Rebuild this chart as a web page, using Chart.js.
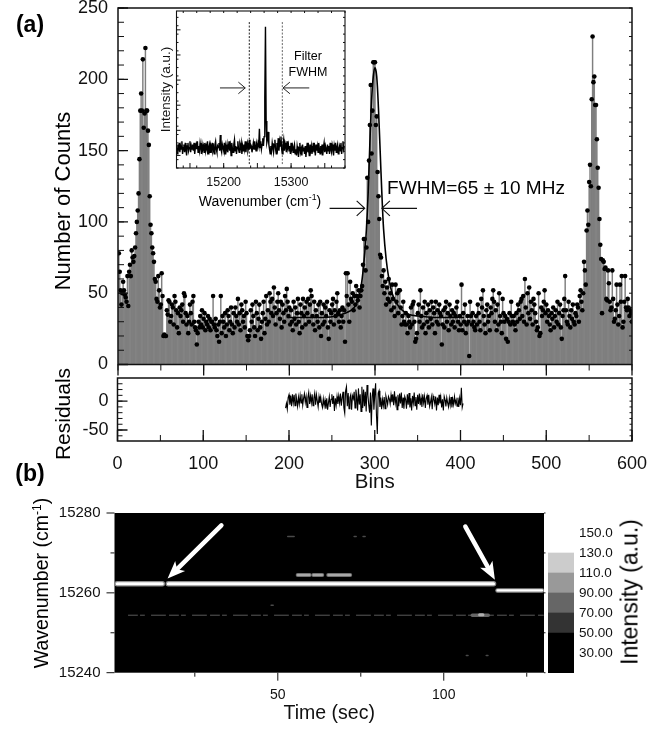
<!DOCTYPE html>
<html>
<head>
<meta charset="utf-8">
<title>Number of counts and wavenumber trace</title>
<script src="https://cdn.jsdelivr.net/npm/chart.js@4"></script>
<style>
body { margin: 0; background: #fff; }
#page { position: relative; width: 648px; height: 734px; overflow: hidden; }
canvas { position: absolute; left: 0; top: 0; }
.t { position: absolute; white-space: nowrap; color: #000; font-family: "Liberation Sans", Arial, sans-serif; transform: translate(-50%, -50%); line-height: 1; }
.r { transform: translate(-50%, -50%) rotate(-90deg); }
sup { font-size: 62%; line-height: 0; }
</style>
</head>
<body>
<div id="page">
<canvas id="main" width="648" height="734"></canvas>
<canvas id="inset" width="648" height="734"></canvas>
<canvas id="resid" width="648" height="734"></canvas>
<canvas id="heat" width="648" height="734"></canvas>
<canvas id="bar" width="648" height="734"></canvas>
<div class="t" style="left:30px;top:24px;font-size:23px;font-weight:bold">(a)</div>
<div class="t" style="left:30px;top:473px;font-size:23px;font-weight:bold">(b)</div>
<div class="t r" style="left:63px;top:201px;font-size:22px">Number of Counts</div>
<div class="t r" style="left:62px;top:414px;font-size:21px">Residuals</div>
<div class="t" style="left:476px;top:187px;font-size:19px">FWHM=65 ± 10 MHz</div>
<div class="t" style="left:308px;top:56px;font-size:12.5px">Filter</div>
<div class="t" style="left:308px;top:72px;font-size:12.5px">FWHM</div>
<div class="t" style="left:260px;top:201px;font-size:14px">Wavenumber (cm<sup>-1</sup>)</div>
<div class="t r" style="left:42px;top:583px;font-size:19.5px">Wavenumber (cm<sup>-1</sup>)</div>
<div class="t r" style="left:630px;top:592px;font-size:23px">Intensity (a.u.)</div>
</div>
<script>
// counts per bin, bins 1..600, 20 bins a row
var binCounts = [
78,65,52,42,50,58,52,49,47,44,62,41,65,70,62,80,75,72,76,82,
92,100,108,120,144,178,190,178,214,166,176,222,178,178,164,154,118,98,92,82,
78,72,60,58,46,44,62,52,40,42,64,48,20,21,20,20,38,35,45,44,
30,34,42,40,28,48,44,38,26,36,22,40,34,38,42,30,50,48,36,28,
34,22,30,42,36,28,44,48,30,26,24,14,22,30,26,34,28,38,26,32,
36,24,30,28,34,26,32,24,30,30,48,28,26,32,24,20,28,16,30,48,
22,34,30,26,36,20,28,38,34,24,30,40,28,22,36,26,40,34,30,46,
28,36,24,42,38,30,34,26,44,36,20,17,20,24,38,30,42,34,26,20,
44,36,24,32,42,26,18,30,36,44,22,32,48,28,38,30,50,44,36,46,
34,54,40,28,36,44,50,38,32,44,26,42,36,30,48,38,53,44,34,40,
28,38,30,24,44,32,40,28,36,46,30,22,42,36,26,46,34,40,28,44,
36,46,30,42,52,48,34,28,44,24,38,34,30,42,26,44,20,36,28,42,
30,40,34,44,26,18,38,30,36,42,46,28,38,34,44,50,36,30,38,26,
34,40,30,38,16,64,48,64,42,30,58,46,44,50,38,48,42,55,48,45,
52,40,48,52,55,70,88,88,66,82,131,100,143,168,196,148,178,212,212,212,
168,174,135,118,102,77,75,62,55,66,50,58,42,54,46,60,44,50,38,56,
46,40,34,56,44,50,36,52,52,40,28,34,44,30,28,36,28,22,34,30,
26,40,28,42,44,30,16,18,22,36,42,30,52,34,26,40,28,44,22,36,
30,42,26,38,32,44,28,40,36,22,44,30,38,28,42,36,34,14,28,38,
26,40,44,30,36,24,42,34,28,38,30,36,26,34,40,44,30,24,34,28,
56,24,36,30,42,22,28,34,30,6,44,34,28,36,30,26,24,34,28,42,
36,30,24,46,40,52,34,28,22,38,42,30,34,24,40,36,46,52,44,30,
38,24,42,28,50,34,30,22,46,36,30,34,18,32,16,30,36,28,44,34,
30,34,28,24,36,30,42,38,32,44,46,34,48,30,60,40,28,50,36,54,
32,44,38,28,46,42,36,30,24,26,50,20,22,40,34,38,44,52,36,42,
30,38,34,28,24,36,32,40,26,34,38,30,44,28,36,42,26,18,34,38,
46,62,38,30,28,44,34,26,38,32,42,30,28,36,34,42,40,30,48,52,
44,38,50,72,66,56,94,108,98,128,140,125,186,230,198,202,182,182,158,138,
124,102,84,74,36,73,72,67,68,46,45,66,57,44,38,40,66,46,30,32,
38,56,42,28,34,56,44,62,26,30,44,62,40,38,46,40,34,38,36,30
];
// fitted curve
var fitBins = [197,220,240,255,265,272,278,282,285,288,290,292,294,296,298,300,302,304,306,308,310,313,316,320,325,332,340,350,370,404];
var fitCounts = [33,33,33,34,36,38,42,49,60,78,95,120,155,185,202,208,202,180,150,120,95,74,61,50,43,38,35,34,33,33];

// residuals, bins 196..403
var residStart = 196;
var residuals = [
-12,-4,-14,6,11,-6,9,-9,12,-3,11,-8,13,2,-9,7,-5,10,-3,12,
-7,5,13,-2,8,-11,6,15,-5,9,-3,12,-8,5,14,-6,11,0,-10,8,
-3,7,-5,-11,4,-8,2,-13,5,-15,-3,8,-10,3,12,-5,9,-17,5,-7,
8,-5,9,-3,13,-8,6,16,-12,-21,18,25,-9,14,-13,6,11,-15,9,4,
16,-12,20,7,-16,22,-6,12,-18,25,-12,20,-9,16,-18,28,11,-7,-20,15,
-42,8,22,-15,10,31,-25,-57,14,18,-10,6,-14,3,-8,7,-13,9,2,-6,
8,4,-5,11,-2,12,-7,17,-3,8,-15,11,-9,13,-4,15,-12,6,-13,8,
3,-13,12,-6,14,-11,5,-16,9,-3,15,-8,7,-15,11,-5,13,-7,6,-10,
12,-3,8,-12,5,10,-6,11,-9,-2,7,-14,9,3,-5,8,-16,6,-7,11,
-4,7,-11,3,-16,8,2,-9,6,-3,-10,5,-7,7,-11,3,-6,8,-4,2,
-9,6,-10,5,-7,23,-11,-4
];

// inset spectrum, 15130..15379 cm-1, 25 points a row
var specStart = 15130;
var spectrum = [
13,9,15,11,16,10,14,12,17,9,13,15,10,16,12,8,14,16,11,13,17,10,14,12,15,
11,16,9,13,15,12,17,10,14,11,16,13,9,15,12,14,10,16,11,14,12,17,9,13,15,
10,14,12,16,11,13,9,15,17,12,10,14,13,16,11,21,12,10,15,13,11,16,9,14,12,
15,10,13,17,11,14,8,16,12,10,15,18,11,14,9,13,17,12,10,15,13,16,9,14,11,
15,12,17,10,14,16,11,13,18,12,15,14,10,13,16,12,17,14,11,15,13,16,14,25,13,
17,12,15,19,14,20,45,90,30,16,18,23,15,12,9,14,11,16,13,10,15,18,12,9,16,
13,19,11,17,14,20,12,9,15,18,11,16,14,10,17,13,15,11,14,9,16,12,14,10,13,
15,9,12,8,14,11,7,13,16,10,12,8,15,11,13,9,14,7,12,16,10,13,8,15,11,
14,9,12,16,10,13,8,15,11,14,10,16,12,9,14,11,15,8,13,16,10,14,12,9,15,
11,14,9,16,12,10,15,13,8,14,11,16,10,13,15,9,12,14,11,16,9,13,17,12,14
];
var filterEdges = [15238, 15287];
var filterSpan = [2.5, 93];

// panel b: wavenumber traces as [start time, end time, wavenumber]
var strongTraces = [[1.6, 15.2, 15262.3], [17, 115, 15262.3]];
var shiftedTraces = [[116.2, 129.6, 15260.6]];
var sideBlobs = [[56, 59.6, 15264.5], [60.7, 63.4, 15264.5], [65.2, 71.8, 15264.5]];
var faintTraces = [[5, 130, 15254.4]];
var weakBlobs = [[108.6, 113.4, 15254.4]];
var brightBlobs = [[110.8, 111.8, 15254.5]];
var specks = [[53, 54.9, 15274.1], [73, 73.6, 15274.1], [75.7, 76.3, 15274.1], [48, 48.6, 15256.9], [106.8, 107.3, 15244.3], [112.8, 113.3, 15244.3]];

// colour bar
var barBands = [[10, 50], [50, 70], [70, 90], [90, 110], [110, 130]];
var barColors = ['#000000', '#333333', '#666666', '#999999', '#cccccc'];
var barTickValues = [30, 50, 70, 90, 110, 130, 150];

// arrows [x0, y0, x1, y1] in data units of their panel
var fwhmArrows = [[247, 109.5, 288, 109.5], [349, 109.5, 308, 109.5]];
var filterArrows = [[15194.5, 51, 15232, 51], [15327, 51, 15288, 51]];
var jumpArrows = [[33, 15276.9, 16.8, 15263.6], [106.5, 15276.6, 115.4, 15263.3]];

var FONT = '"Liberation Sans", Arial, sans-serif';
var INK = '#111';

function range(a, b, step) {
  var out = [];
  for (var v = a; v <= b + 1e-6; v += step) out.push(v);
  return out;
}

// the library has no inward or minor ticks, so frame draws them through the scales
var framePlugin = {
  id: 'frame',
  beforeDatasetsDraw: function (chart, args, opts) {
    if (!opts.fill) return;
    var a = chart.chartArea;
    chart.ctx.fillStyle = opts.fill;
    chart.ctx.fillRect(a.left, a.top, a.width, a.height);
  },
  afterDatasetsDraw: function (chart, args, opts) {
    var ctx = chart.ctx, a = chart.chartArea;
    ctx.save();
    ctx.strokeStyle = INK;
    (opts.marks || []).forEach(function (m) {
      ctx.lineWidth = m.width || 1;
      ctx.beginPath();
      m.values.forEach(function (v) {
        if (m.side === 'left' || m.side === 'right') {
          var py = chart.scales.y.getPixelForValue(v);
          var px = m.side === 'left' ? a.left : a.right;
          var d = m.side === 'left' ? m.len : -m.len;
          ctx.moveTo(px, py);
          ctx.lineTo(px + d, py);
        } else {
          var qx = chart.scales.x.getPixelForValue(v);
          var qy = m.side === 'bottom' ? a.bottom : a.top;
          var e = m.side === 'bottom' ? m.len : -m.len;
          ctx.moveTo(qx, qy);
          ctx.lineTo(qx, qy + e);
        }
      });
      ctx.stroke();
    });
    if (opts.border) {
      ctx.lineWidth = opts.border;
      ctx.strokeRect(a.left, a.top, a.width, a.height);
    }
    (opts.arrows || []).forEach(function (r) {
      var x0 = chart.scales.x.getPixelForValue(r[0]), y0 = chart.scales.y.getPixelForValue(r[1]);
      var x1 = chart.scales.x.getPixelForValue(r[2]), y1 = chart.scales.y.getPixelForValue(r[3]);
      var ang = Math.atan2(y1 - y0, x1 - x0);
      var h = opts.arrowHead, w = opts.arrowSpread;
      if (opts.arrowSolid) {
        ctx.strokeStyle = opts.arrowColor;
        ctx.fillStyle = opts.arrowColor;
        ctx.lineWidth = opts.arrowWidth;
        ctx.lineCap = 'round';
        ctx.beginPath();
        ctx.moveTo(x0, y0);
        ctx.lineTo(x1 - h * 0.7 * Math.cos(ang), y1 - h * 0.7 * Math.sin(ang));
        ctx.stroke();
        ctx.beginPath();
        ctx.moveTo(x1, y1);
        ctx.lineTo(x1 - h * Math.cos(ang - w), y1 - h * Math.sin(ang - w));
        ctx.lineTo(x1 - h * 0.7 * Math.cos(ang), y1 - h * 0.7 * Math.sin(ang));
        ctx.lineTo(x1 - h * Math.cos(ang + w), y1 - h * Math.sin(ang + w));
        ctx.closePath();
        ctx.fill();
      } else {
        ctx.strokeStyle = opts.arrowColor;
        ctx.lineWidth = opts.arrowWidth;
        ctx.beginPath();
        ctx.moveTo(x0, y0);
        ctx.lineTo(x1, y1);
        ctx.moveTo(x1 - h * Math.cos(ang - w), y1 - h * Math.sin(ang - w));
        ctx.lineTo(x1, y1);
        ctx.lineTo(x1 - h * Math.cos(ang + w), y1 - h * Math.sin(ang + w));
        ctx.stroke();
      }
    });
    ctx.restore();
  }
};

// sizes an axis box by hand so the plot area lands where the reference has it
function sized(prop, size) {
  return function (s) {
    s[prop] = size;
    s.paddingLeft = s.paddingRight = s.paddingTop = s.paddingBottom = 0;
  };
}

function place(l, t, r, b, yWidth, xHeight) {
  return { autoPadding: false, padding: { left: l - yWidth, top: t, right: 648 - r, bottom: 734 - b - xHeight } };
}

function baseOptions(layout, scales, frame) {
  return {
    responsive: false,
    animation: false,
    devicePixelRatio: 1,
    layout: layout,
    events: [],
    plugins: { legend: { display: false }, tooltip: { enabled: false }, frame: frame },
    scales: scales
  };
}

function axis(min, max, step, o) {
  o = o || {};
  var cfg = {
    type: 'linear', min: min, max: max, offset: false,
    grid: { display: false, drawTicks: false, offset: false },
    border: { display: false },
    afterFit: sized(o.prop, o.size),
    ticks: {
      display: !!o.font, stepSize: step, includeBounds: false, padding: o.pad || 0, maxRotation: 0,
      autoSkip: false, color: INK, callback: function (v) { return String(v); },
      font: { family: FONT, size: o.font || 10 }
    }
  };
  if (o.title) cfg.title = { display: true, text: o.title, color: INK, padding: 0, font: { family: FONT, size: o.titleSize } };
  return cfg;
}

function seg(r, color, width, dash) {
  return {
    type: 'line', data: [{ x: r[0], y: r[2] }, { x: r[1], y: r[2] }],
    borderColor: color, borderWidth: width, borderDash: dash || [], pointRadius: 0, borderCapStyle: 'round'
  };
}

Chart.defaults.font.family = FONT;

// (a) histogram with dots and fit
new Chart(document.getElementById('main'), {
  type: 'bar',
  data: {
    datasets: [
      { type: 'line', order: 1, data: fitBins.map(function (b, i) { return { x: b, y: fitCounts[i] }; }), borderColor: '#000', borderWidth: 1.6, pointRadius: 0, tension: 0.3 },
      { type: 'line', order: 2, data: binCounts.map(function (c, i) { return { x: i + 1, y: c }; }), showLine: false, pointRadius: 2.3, pointBackgroundColor: '#000', pointBorderWidth: 0 },
      { type: 'bar', order: 3, data: binCounts.map(function (c, i) { return { x: i + 1, y: c }; }), backgroundColor: '#7f7f7f', barThickness: 0.8 }
    ]
  },
  options: baseOptions(place(118, 8, 632, 364.5, 67, 0), {
    x: axis(0, 600, 100, { prop: 'height', size: 0 }),
    y: axis(0, 250, 50, { prop: 'width', size: 67, font: 18, pad: 10 })
  }, {
    border: 1.5,
    marks: [
      { side: 'left', values: range(0, 250, 50), len: 10, width: 1.3 },
      { side: 'left', values: range(0, 250, 10), len: 6, width: 1 },
      { side: 'right', values: range(0, 250, 10), len: 3, width: 1 },
      { side: 'bottom', values: range(0, 600, 100), len: 11, width: 1.3 },
      { side: 'bottom', values: range(0, 600, 50), len: 6, width: 1 }
    ],
    arrows: fwhmArrows, arrowHead: 11, arrowSpread: 0.75, arrowWidth: 1.1, arrowColor: '#111'
  }),
  plugins: [framePlugin]
});

// inset spectrum
new Chart(document.getElementById('inset'), {
  type: 'line',
  data: {
    datasets: [
      { data: spectrum.map(function (v, i) { return { x: specStart + i, y: v }; }), borderColor: '#000', borderWidth: 1.4, pointRadius: 0 },
      { data: filterSpan.map(function (v) { return { x: filterEdges[0], y: v }; }), borderColor: '#222', borderWidth: 1, borderDash: [2, 1.5], pointRadius: 0 },
      { data: filterSpan.map(function (v) { return { x: filterEdges[1], y: v }; }), borderColor: '#666', borderWidth: 1, borderDash: [2, 1.5], pointRadius: 0 }
    ]
  },
  options: baseOptions(place(176.5, 11, 345, 168, 18, 25), {
    x: axis(15130, 15380, 100, { prop: 'height', size: 25, font: 12.5, pad: 7 }),
    y: axis(0, 100, 50, { prop: 'width', size: 18, title: 'Intensity (a.u.)', titleSize: 13.5 })
  }, {
    border: 1.1,
    marks: [
      { side: 'bottom', values: range(15140, 15380, 20), len: -2.5 },
      { side: 'bottom', values: range(15150, 15350, 50), len: -5 },
      { side: 'top', values: range(15140, 15380, 20), len: -2 },
      { side: 'left', values: range(8, 100, 16), len: 4 },
      { side: 'left', values: range(0, 100, 5.33), len: 2 },
      { side: 'right', values: range(0, 100, 5.33), len: 2 }
    ],
    arrows: filterArrows, arrowHead: 9, arrowSpread: 0.7, arrowWidth: 1, arrowColor: '#222'
  }),
  plugins: [framePlugin]
});

// residuals
new Chart(document.getElementById('resid'), {
  type: 'line',
  data: {
    datasets: [
      { data: residuals.map(function (v, i) { return { x: residStart + i, y: v }; }), borderColor: '#000', borderWidth: 1.1, pointRadius: 0 }
    ]
  },
  options: baseOptions(place(117.5, 378, 632, 441, 67, 54), {
    x: axis(0, 600, 100, { prop: 'height', size: 54, font: 18, pad: 12, title: 'Bins', titleSize: 20.5 }),
    y: axis(-69, 40, 50, { prop: 'width', size: 67, font: 18, pad: 9 })
  }, {
    border: 1.5,
    marks: [
      { side: 'left', values: [-50, 0], len: 10, width: 1.3 },
      { side: 'left', values: range(-60, 30, 10), len: 5 },
      { side: 'right', values: range(-60, 30, 10), len: 2.5 },
      { side: 'bottom', values: range(0, 600, 100), len: -11, width: 1.3 },
      { side: 'bottom', values: range(0, 600, 50), len: -6 }
    ]
  }),
  plugins: [framePlugin]
});

// (b) wavenumber against time
var heatSets = [];
faintTraces.forEach(function (r) { heatSets.push(seg(r, '#5a5a5a', 1, [9, 3, 4, 7, 14, 4])); });
specks.forEach(function (r) { heatSets.push(seg(r, '#4a4a4a', 1.6)); });
weakBlobs.forEach(function (r) { heatSets.push(seg(r, '#666666', 3.5)); });
brightBlobs.forEach(function (r) { heatSets.push(seg(r, '#b0b0b0', 3)); });
sideBlobs.forEach(function (r) { heatSets.push(seg(r, '#707070', 4)); heatSets.push(seg(r, '#a8a8a8', 2)); });
strongTraces.forEach(function (r) { heatSets.push(seg(r, '#8c8c8c', 5.5)); heatSets.push(seg(r, '#ffffff', 3)); });
shiftedTraces.forEach(function (r) { heatSets.push(seg(r, '#8c8c8c', 4.5)); heatSets.push(seg(r, '#ffffff', 2.2)); });

new Chart(document.getElementById('heat'), {
  type: 'line',
  // the library paints the first dataset last, so the list is turned round
  data: { datasets: heatSets.reverse() },
  options: baseOptions(place(114.5, 513, 544, 672.7, 60, 53), {
    x: axis(0.8, 130.2, 50, { prop: 'height', size: 53, font: 14, pad: 14, title: 'Time (sec)', titleSize: 19.5 }),
    y: axis(15240, 15280, 20, { prop: 'width', size: 60, font: 15, pad: 14 })
  }, {
    fill: '#000',
    marks: [
      { side: 'left', values: [15240, 15260, 15280], len: -8 },
      { side: 'left', values: [15250, 15270], len: -4 },
      { side: 'right', values: range(15240, 15280, 10), len: -1.5 },
      { side: 'bottom', values: [50, 100], len: 8 },
      { side: 'bottom', values: [25, 75, 125], len: 4 }
    ],
    arrows: jumpArrows, arrowHead: 19, arrowSpread: 0.38, arrowWidth: 4.5, arrowColor: '#fff', arrowSolid: true
  }),
  plugins: [framePlugin]
});

// colour bar
var barAxisY = axis(10, 150, 20, { prop: 'width', size: 60, font: 13.5, pad: 5 });
barAxisY.position = 'right';
barAxisY.afterBuildTicks = function (s) { s.ticks = barTickValues.map(function (v) { return { value: v }; }); };
barAxisY.ticks.callback = function (v) { return v.toPrecision(4); };
new Chart(document.getElementById('bar'), {
  type: 'bar',
  data: {
    labels: [''],
    datasets: barBands.map(function (b, i) {
      return { data: [b], backgroundColor: barColors[i], barPercentage: 1, categoryPercentage: 1, grouped: false };
    })
  },
  options: baseOptions({ autoPadding: false, padding: { left: 548, top: 533, right: 648 - 574 - 60, bottom: 734 - 673 } }, {
    x: { display: false, offset: true },
    y: barAxisY
  }, {}),
  plugins: [framePlugin]
});
</script>
</body>
</html>
